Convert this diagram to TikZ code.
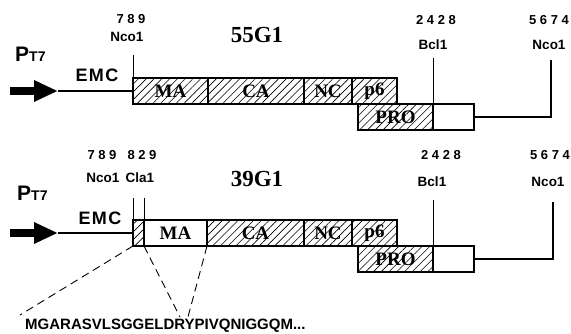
\documentclass[tikz,border=0pt]{standalone}
\usepackage{fontspec}
\setmainfont{Liberation Serif}
\setsansfont{Liberation Sans}
\newfontfamily\sitenumfont[LetterSpace=28]{Liberation Sans}
\newfontfamily\leaderfont[LetterSpace=8]{Liberation Sans}
\usetikzlibrary{arrows.meta,patterns.meta}

\begin{document}
\begin{tikzpicture}[x=1pt,y=-1pt,
  gene/.style={draw,line width=1.6pt,anchor=north west,minimum height=26pt,inner sep=0pt,outer sep=0pt,
    font=\bfseries\fontsize{19}{19}\selectfont},
  hatch/.style={gene,pattern={Lines[angle=45,distance=5.5pt,line width=0.6pt]}},
  sitenum/.style={anchor=base,font=\sitenumfont\bfseries\fontsize{13}{13}\selectfont},
  sitename/.style={anchor=base,font=\sffamily\bfseries\fontsize{13.5}{13.5}\selectfont},
  construct/.style={font=\bfseries\fontsize{23}{23}\selectfont},
  promoter/.style={anchor=base west,inner sep=0pt,font=\sffamily\bfseries\fontsize{21}{21}\selectfont},
  leader/.style={anchor=base,inner sep=0pt,font=\leaderfont\bfseries\fontsize{18}{18}\selectfont},
  cut/.style={line width=0.9pt},
  cds/.style={line width=2.4pt},
  fat/.style={line width=8pt,-{Triangle[length=24pt,width=20pt]}},
  guide/.style={line width=0.9pt,dash pattern=on 8pt off 5pt}]
\useasboundingbox (0,0) rectangle (571,334);

\node[construct] (name1) at (257,35) {55G1};
\node[promoter] (pt1) at (15,62) {P{\fontsize{14}{14}\selectfont T7}};
\node[leader] (emc1) at (97,82) {EMC};
\coordinate (start1) at (10,91);
\coordinate (tip1) at (58,91);
\node[hatch,minimum width=75pt] (ma1) at (133,78) {MA};
\node[hatch,minimum width=96pt] (ca1) at (ma1.north east) {CA};
\node[hatch,minimum width=48pt] (nc1) at (ca1.north east) {NC};
\node[hatch,minimum width=45pt] (psix1) at (nc1.north east) {p6};
\node[hatch,minimum width=75pt] (pro1) at (358,104) {PRO};
\node[gene,minimum width=41pt] (end1) at (pro1.north east) {};
\draw[fat] (start1) -- (tip1);
\draw[cds] (tip1) -- (ma1.west);
\coordinate (ncoA1) at (133,55);
\coordinate (bcl1) at (433,58);
\coordinate (ncoB1) at (551,60);
\draw[cut] (ncoA1) -- (ma1.north west);
\draw[cut] (bcl1) -- (pro1.north east);
\draw[cds] (end1.east) -| (ncoB1);
\node[sitenum] (n789a) at (131,24) {789};
\node[sitename] (ncoa) at (127,42) {Nco1};
\node[sitenum] (n2428a) at (436,25) {2428};
\node[sitename] (bcla) at (433,50) {Bcl1};
\node[sitenum] (n5674a) at (549,25) {5674};
\node[sitename] (ncob) at (549,50) {Nco1};

\node[construct] (name2) at (257,179) {39G1};
\node[promoter] (pt2) at (17,201) {P{\fontsize{14}{14}\selectfont T7}};
\node[leader] (emc2) at (100,225) {EMC};
\coordinate (start2) at (10,233);
\coordinate (tip2) at (58,233);
\node[hatch,minimum width=11pt] (lead2) at (133,220) {};
\node[gene,minimum width=63pt] (ma2) at (lead2.north east) {MA};
\node[hatch,minimum width=97pt] (ca2) at (ma2.north east) {CA};
\node[hatch,minimum width=48pt] (nc2) at (ca2.north east) {NC};
\node[hatch,minimum width=45pt] (psix2) at (nc2.north east) {p6};
\node[hatch,minimum width=75pt] (pro2) at (358,246) {PRO};
\node[gene,minimum width=41pt] (end2) at (pro2.north east) {};
\draw[fat] (start2) -- (tip2);
\draw[cds] (tip2) -- (lead2.west);
\coordinate (ncoA2) at (133,198);
\coordinate (cla2) at (144,198);
\coordinate (bcl2) at (433,200);
\coordinate (ncoB2) at (553,202);
\draw[cut] (ncoA2) -- (lead2.north west);
\draw[cut] (cla2) -- (lead2.north east);
\draw[cut] (bcl2) -- (pro2.north east);
\draw[cds] (end2.east) -| (ncoB2);
\node[sitenum] (n789b) at (102,160) {789};
\node[sitenum] (n829b) at (142,160) {829};
\node[sitename] (ncoc) at (103,183) {Nco1};
\node[sitename] (clab) at (140,183) {Cla1};
\node[sitenum] (n2428b) at (441,160) {2428};
\node[sitename] (bclb) at (432,187) {Bcl1};
\node[sitenum] (n5674b) at (550,160) {5674};
\node[sitename] (ncod) at (548,187) {Nco1};

\node[anchor=base west,inner sep=0pt,font=\sffamily\bfseries\fontsize{15}{15}\selectfont] (seq) at (25,330) {MGARASVLSGGELDRYPIVQNIGGQM...};
\coordinate (seqa) at (20,315);
\coordinate (seqb) at (180,317);
\coordinate (seqc) at (188,317);
\draw[guide] (lead2.south west) -- (seqa);
\draw[guide] (lead2.south east) -- (seqb);
\draw[guide] (ma2.south east) -- (seqc);
\end{tikzpicture}
\end{document}
